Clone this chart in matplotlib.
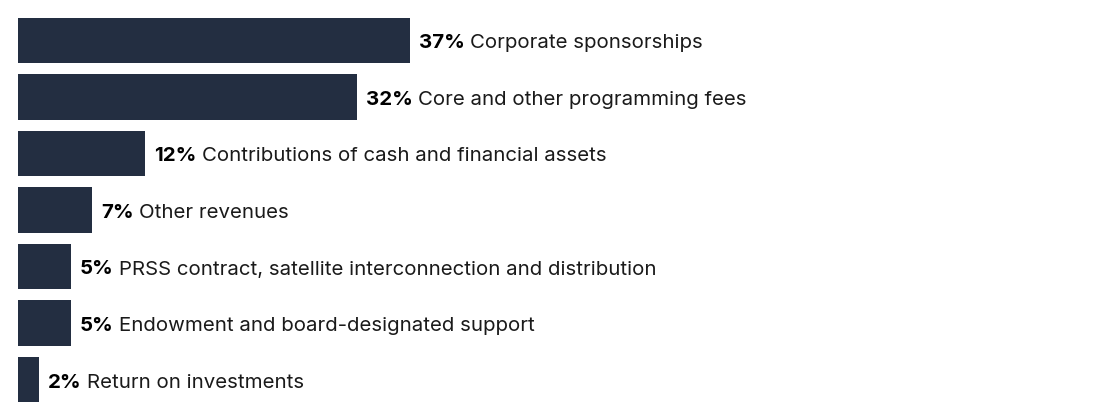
import matplotlib
matplotlib.use("Agg")
import matplotlib.pyplot as plt

# revenue shares, top to bottom
labels = [
    "Corporate sponsorships",
    "Core and other programming fees",
    "Contributions of cash and financial assets",
    "Other revenues",
    "PRSS contract, satellite interconnection and distribution",
    "Endowment and board-designated support",
    "Return on investments",
]
shares = [37, 32, 12, 7, 5, 5, 2]

BAR = "#232e41"
FONT = ["Inter", "DejaVu Sans"]
FS = 14.7

fig = plt.figure(figsize=(11, 4.2), dpi=100)
ax = fig.add_axes([0, 0, 1, 1])
ypos = list(range(len(shares)))
ax.barh(ypos, shares, height=0.8, color=BAR, left=0)
ax.set_xlim(-18 / 10.6, (1100 - 18) / 10.6)
ax.set_ylim(420 / 56.5 - 40.5 / 56.5, -40.5 / 56.5)
ax.axis("off")

fig.canvas.draw()
r = fig.canvas.get_renderer()
for y, v, lab in zip(ypos, shares, labels):
    t = ax.annotate(f"{v}%", (v, y), xytext=(9, -3), textcoords="offset pixels",
                    ha="left", va="center", fontsize=FS, fontweight="bold",
                    family=FONT, color="black")
    w = t.get_window_extent(renderer=r).width
    ax.annotate(lab, (v, y), xytext=(9 + w + 5, -3), textcoords="offset pixels",
                ha="left", va="center", fontsize=FS, family=FONT, color="#1a1a1a")

fig.savefig("out.png", dpi=100)
